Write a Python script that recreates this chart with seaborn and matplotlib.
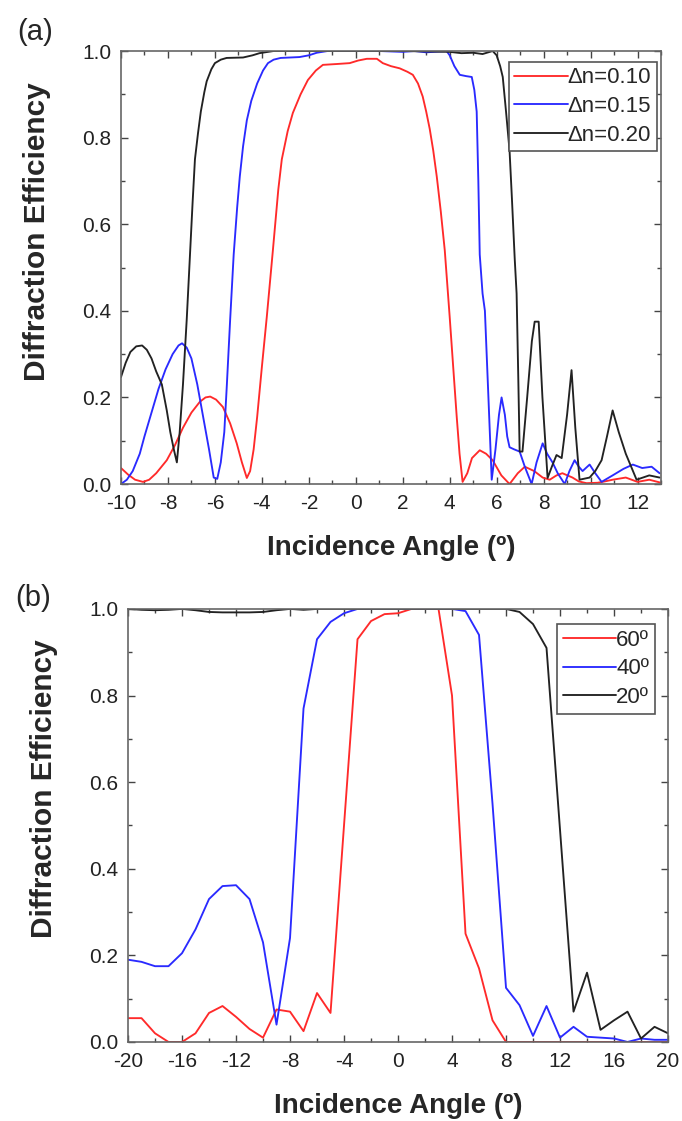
import numpy as np
import pandas as pd
import matplotlib
matplotlib.use('Agg')
import matplotlib.pyplot as plt
from matplotlib.ticker import MultipleLocator, FormatStrFormatter
import seaborn as sns

out_file = 'out.png'

# ---- panel (a): index modulation sweep ----
a_labels = ['Δn=0.10', 'Δn=0.15', 'Δn=0.20']

a_x_010 = [-10, -9.7, -9.4, -9.06, -8.8, -8.5, -8.05, -7.7, -7.36, -7.0, -6.64, -6.4, -6.2,
           -5.95, -5.66, -5.35, -5.07, -4.85, -4.64, -4.5, -4.35, -4.2, -4.0, -3.79, -3.53,
           -3.3, -3.15, -2.9, -2.68, -2.35, -2.04, -1.7, -1.4, -0.8, -0.26, 0.1, 0.47, 0.9,
           1.15, 1.5, 1.87, 2.2, 2.43, 2.65, 2.85, 3.0, 3.15, 3.3, 3.45, 3.62, 3.79, 4.0,
           4.15, 4.3, 4.42, 4.55, 4.75, 4.95, 5.28, 5.55, 5.83, 6.2, 6.55, 6.9, 7.2, 7.6,
           7.96, 8.26, 8.55, 8.8, 9.23, 9.5, 9.83, 10.3, 10.6, 10.94, 11.5, 12.0, 12.5, 13]
a_y_010 = [0.037, 0.022, 0.01, 0.005, 0.01, 0.025, 0.055, 0.09, 0.13, 0.165, 0.19, 0.2, 0.202,
           0.195, 0.178, 0.14, 0.094, 0.05, 0.014, 0.03, 0.08, 0.155, 0.27, 0.386, 0.54,
           0.68, 0.75, 0.815, 0.857, 0.9, 0.933, 0.955, 0.968, 0.97, 0.972, 0.978, 0.982, 0.982,
           0.972, 0.965, 0.96, 0.952, 0.945, 0.925, 0.895, 0.86, 0.82, 0.77, 0.71, 0.63, 0.54, 0.386,
           0.27, 0.155, 0.07, 0.005, 0.025, 0.06, 0.078, 0.07, 0.055, 0.02, 0.0, 0.025, 0.04, 0.03,
           0.015, 0.01, 0.02, 0.025, 0.015, 0.006, 0.002, 0.003, 0.006, 0.01, 0.015, 0.005, 0.01, 0.003]

a_x_015 = [-10, -9.75, -9.5, -9.2, -9.0, -8.7, -8.4, -8.1, -7.8, -7.55, -7.4, -7.2, -7.0,
           -6.75, -6.5, -6.25, -6.05, -5.9, -5.75, -5.6, -5.49, -5.35, -5.2, -5.05, -4.94,
           -4.8, -4.64, -4.45, -4.2, -3.95, -3.74, -3.5, -3.2, -2.4, -2.0, -1.66, -1.2, 0,
           1.0, 2.0, 2.5, 3.0, 3.87, 4.0, 4.2, 4.43, 4.7, 4.94, 5.05, 5.15, 5.22, 5.28, 5.4,
           5.5, 5.65, 5.79, 5.95, 6.1, 6.21, 6.35, 6.45, 6.55, 6.75, 6.98, 7.2, 7.49, 7.7,
           7.96, 8.15, 8.38, 8.6, 8.9, 9.1, 9.32, 9.5, 9.66, 9.96, 10.2, 10.47, 10.94, 11.4,
           11.8, 12.2, 12.6, 12.94]
a_y_015 = [0.0, 0.01, 0.03, 0.07, 0.11, 0.165, 0.22, 0.265, 0.3, 0.32, 0.325, 0.315, 0.29,
           0.23, 0.155, 0.08, 0.015, 0.012, 0.05, 0.12, 0.23, 0.38, 0.53, 0.64, 0.71,
           0.78, 0.84, 0.885, 0.925, 0.955, 0.972, 0.98, 0.984, 0.986, 0.99, 0.996, 1.0, 1.0,
           1.0, 0.998, 1.0, 0.997, 1.0, 0.99, 0.965, 0.945, 0.942, 0.94, 0.91, 0.86, 0.7, 0.53, 0.44,
           0.40, 0.2, 0.01, 0.08, 0.16, 0.2, 0.16, 0.11, 0.085, 0.08, 0.075, 0.04, 0.0, 0.05,
           0.094, 0.07, 0.05, 0.025, 0.0, 0.03, 0.055, 0.04, 0.03, 0.045, 0.025, 0.005, 0.02, 0.035,
           0.045, 0.037, 0.04, 0.025]

a_x_020 = [-10, -9.8, -9.6, -9.35, -9.1, -8.9, -8.7, -8.5, -8.26, -8.05, -7.9, -7.75, -7.62,
           -7.5, -7.36, -7.2, -7.07, -6.95, -6.85, -6.72, -6.6, -6.45, -6.35, -6.15, -6.0,
           -5.75, -5.5, -4.8, -4.4, -4.1, -3.5, -2, 0, 2, 4, 4.5, 5.0, 5.4, 5.83, 6.0, 6.15,
           6.26, 6.4, 6.55, 6.65, 6.77, 6.85, 6.92, 6.98, 7.1, 7.3, 7.5, 7.62, 7.79, 7.95,
           8.17, 8.35, 8.55, 8.77, 9.0, 9.19, 9.35, 9.53, 9.96, 10.2, 10.47, 10.7, 10.94,
           11.2, 11.5, 11.96, 12.5, 12.94]
a_y_020 = [0.247, 0.28, 0.305, 0.318, 0.32, 0.31, 0.29, 0.26, 0.23, 0.17, 0.12, 0.08, 0.05,
           0.12, 0.23, 0.38, 0.52, 0.65, 0.75, 0.81, 0.86, 0.905, 0.93, 0.958, 0.972,
           0.98, 0.984, 0.985, 0.99, 0.995, 1.0, 1.0, 1.0, 1.0, 0.998, 0.995, 0.996, 0.993, 1.0, 0.99, 0.965,
           0.94, 0.86, 0.77, 0.66, 0.52, 0.44, 0.25, 0.075, 0.075, 0.2, 0.33, 0.375, 0.375, 0.2,
           0.014, 0.04, 0.067, 0.06, 0.16, 0.263, 0.13, 0.01, 0.015, 0.03, 0.055, 0.11, 0.17,
           0.12, 0.07, 0.01, 0.02, 0.015]

# ---- panel (b): slant angle sweep, sampled every degree ----
b_labels = ['60º', '40º', '20º']
b_angles = list(range(-20, 21))
b_y_60 = [0.055, 0.055, 0.02, 0.0, 0.0, 0.02, 0.067, 0.083, 0.058, 0.03, 0.01, 0.075, 0.07,
          0.025, 0.113, 0.067, 0.5, 0.93, 0.972, 0.988, 0.99, 1.0, 1.0, 1.0, 0.8, 0.25, 0.17,
          0.05, 0.0, 0.0, 0.0, 0.0, 0.0, 0.0, 0.0, 0.0, 0.0, 0.0, 0.0, 0.0, 0.0]
b_y_40 = [0.19, 0.185, 0.175, 0.175, 0.205, 0.26, 0.33, 0.36, 0.362, 0.33, 0.23, 0.04, 0.24,
          0.77, 0.93, 0.97, 0.99, 1.0, 1.0, 1.0, 1.0, 1.0, 1.0, 1.0, 1.0, 0.995, 0.94, 0.55,
          0.125, 0.085, 0.014, 0.083, 0.01, 0.035, 0.012, 0.01, 0.008, 0.0, 0.008, 0.005, 0.005]
b_y_20 = [1.0, 0.998, 0.997, 0.998, 1.0, 0.997, 0.993, 0.992, 0.992, 0.992, 0.993, 0.997, 1.0,
          0.998, 1.0, 1.0, 1.0, 1.0, 1.0, 1.0, 1.0, 1.0, 1.0, 1.0, 1.0, 1.0, 1.0, 1.0,
          1.0, 0.993, 0.965, 0.91, 0.49, 0.07, 0.16, 0.028, 0.05, 0.07, 0.008, 0.035, 0.02]

colors = ['#ff2a2a', '#2a2aff', '#222222']


def long_df(xs, ys, labels):
    rows = []
    for x, y, lab in zip(xs, ys, labels):
        rows.append(pd.DataFrame({'angle': x, 'eff': y, 'series': lab}))
    return pd.concat(rows, ignore_index=True)


def style_axes(ax, xmin, xmax, xmajor, xminor):
    ax.set_xlim(xmin, xmax)
    ax.set_ylim(0, 1.0)
    ax.xaxis.set_major_locator(MultipleLocator(xmajor))
    ax.xaxis.set_minor_locator(MultipleLocator(xminor))
    ax.yaxis.set_major_locator(MultipleLocator(0.2))
    ax.yaxis.set_minor_locator(MultipleLocator(0.1))
    ax.yaxis.set_major_formatter(FormatStrFormatter('%.1f'))
    ax.tick_params(which='both', direction='in', top=True, right=True,
                   colors='#444444', labelcolor='#222222', labelsize=15, pad=7)
    ax.tick_params(which='major', length=5, width=1)
    ax.tick_params(which='minor', length=3, width=1)
    for sp in ax.spines.values():
        sp.set_color('#666666')
        sp.set_linewidth(1.2)
    ax.set_xlabel('Incidence Angle (º)', fontsize=20, fontweight='bold')
    ax.set_ylabel('Diffraction Efficiency', fontsize=21.5, fontweight='bold')


def main():
    sns.set_theme(style='ticks')
    plt.rcParams['font.family'] = ['Liberation Sans', 'DejaVu Sans']
    plt.rcParams['axes.unicode_minus'] = False

    fig = plt.figure(figsize=(6.82, 11.21), dpi=100)
    ax_a = fig.add_axes([0.1774, 0.5682, 0.7918, 0.3863])
    ax_b = fig.add_axes([0.1877, 0.0705, 0.7918, 0.3863])

    df_a = long_df([a_x_010, a_x_015, a_x_020], [a_y_010, a_y_015, a_y_020], a_labels)
    sns.lineplot(data=df_a, x='angle', y='eff', hue='series', hue_order=a_labels,
                 palette=colors, sort=False, estimator=None, linewidth=1.35, ax=ax_a)
    style_axes(ax_a, -10, 13, 2, 1)

    df_b = long_df([b_angles] * 3, [b_y_60, b_y_40, b_y_20], b_labels)
    sns.lineplot(data=df_b, x='angle', y='eff', hue='series', hue_order=b_labels,
                 palette=colors, sort=False, estimator=None, linewidth=1.35, ax=ax_b)
    style_axes(ax_b, -20, 20, 4, 2)

    for ax, anchor in ((ax_a, (0.992, 0.975)), (ax_b, (0.975, 0.965))):
        h, l = ax.get_legend_handles_labels()
        leg = ax.legend(h, l, loc='upper right', bbox_to_anchor=anchor, fontsize=16,
                        frameon=True, fancybox=False, framealpha=1, edgecolor='#555555',
                        handlelength=2.4, handletextpad=0.0, borderpad=0.25,
                        labelspacing=0.35, borderaxespad=0)
        leg.get_frame().set_linewidth(1.2)
        ax.xaxis.set_label_coords(0.5, -0.118)
        ax.yaxis.set_label_coords(-0.13, 0.584)

    fig.text(0.051, 0.9715, '(a)', fontsize=21, ha='center', va='center')
    fig.text(0.049, 0.4666, '(b)', fontsize=21, ha='center', va='center')

    fig.savefig(out_file, dpi=100)
    plt.close(fig)


if __name__ == '__main__':
    main()
